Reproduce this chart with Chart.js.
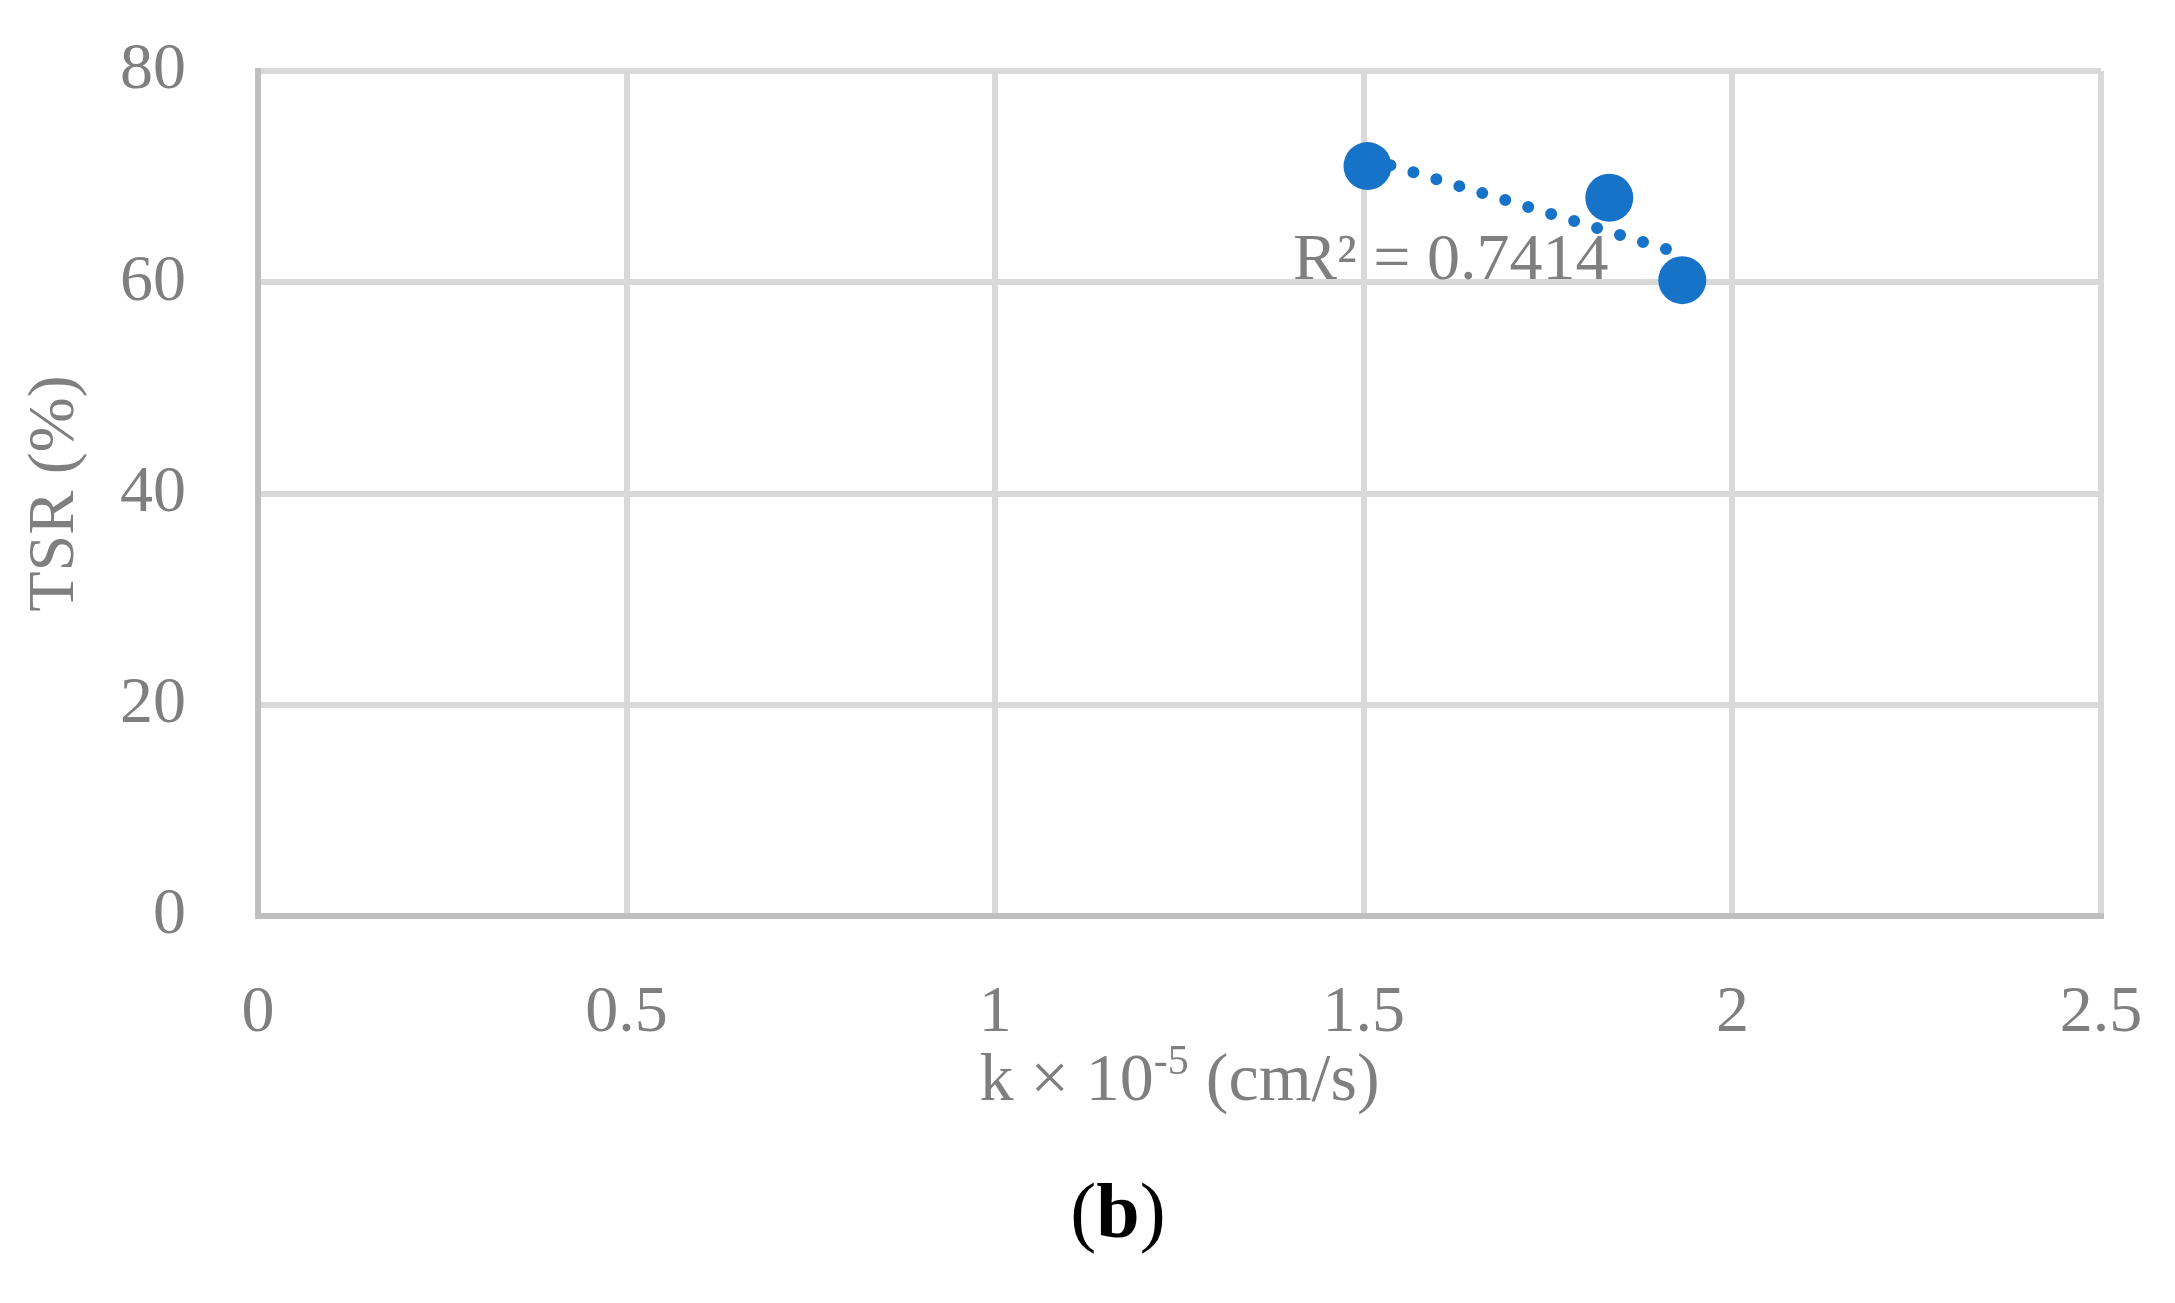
<!DOCTYPE html>
<html>
<head>
<meta charset="utf-8">
<script src="https://cdn.jsdelivr.net/npm/chart.js@4.4.1/dist/chart.umd.min.js"></script>
<style>
  html, body { margin: 0; padding: 0; background: #ffffff; }
  #wrap { position: relative; width: 2175px; height: 1303px; }
</style>
</head>
<body>
<div id="wrap"><canvas id="c"></canvas></div>
<script>
// ---- data ----
const kValues   = [1.505, 1.833, 1.932];   // k × 10^-5 (cm/s)
const tsrValues = [71.0, 68.0, 60.2];      // TSR (%)
const xTickValues = [0, 0.5, 1, 1.5, 2, 2.5];
const xTickLabels = ['0', '0.5', '1', '1.5', '2', '2.5'];
const yTickValues = [0, 20, 40, 60, 80];
const yTickLabels = ['0', '20', '40', '60', '80'];
const r2Label = 'R² = 0.7414';
const yTitle = 'TSR (%)';
const xTitleParts = ['k × 10', '-5', ' (cm/s)'];
const panelLabel = ['(', 'b', ')'];

// ---- linear trendline (least squares) over data range ----
const n = kValues.length;
const mx = kValues.reduce((a, b) => a + b, 0) / n;
const my = tsrValues.reduce((a, b) => a + b, 0) / n;
let sxy = 0, sxx = 0;
for (let i = 0; i < n; i++) { sxy += (kValues[i] - mx) * (tsrValues[i] - my); sxx += (kValues[i] - mx) ** 2; }
const slope = sxy / sxx, intercept = my - slope * mx;
const xMin = Math.min(...kValues), xMax = Math.max(...kValues);
const trendPts = [xMin, xMax].map(x => ({ x: x, y: intercept + slope * x }));

const FONT = "'Liberation Serif', 'DejaVu Serif', serif";
const GRAY = '#7f7f7f';
const BLUE = '#1773c8';

const overlay = {
  id: 'overlay',
  afterDraw(chart) {
    const ctx = chart.ctx;
    const xs = chart.scales.x, ys = chart.scales.y;
    const ca = chart.chartArea;
    ctx.save();
    // R² label
    ctx.fillStyle = GRAY;
    ctx.font = `66px ${FONT}`;
    ctx.textBaseline = 'alphabetic';
    ctx.textAlign = 'left';
    ctx.fillText(r2Label, xs.getPixelForValue(1.404), ys.getPixelForValue(60.3));

    // x-axis title with superscript
    const big = `68px ${FONT}`, small = `42px ${FONT}`;
    ctx.font = big; const w0 = ctx.measureText(xTitleParts[0]).width;
    const w2 = ctx.measureText(xTitleParts[2]).width;
    ctx.font = small; const w1 = ctx.measureText(xTitleParts[1]).width;
    const total = w0 + w1 + w2;
    let x = (ca.left + ca.right) / 2 - total / 2;
    const base = 1100;
    ctx.font = big; ctx.fillText(xTitleParts[0], x, base); x += w0;
    ctx.font = small; ctx.fillText(xTitleParts[1], x, base - 26); x += w1;
    ctx.font = big; ctx.fillText(xTitleParts[2], x, base);

    // panel label (b)
    ctx.fillStyle = '#000000';
    const pn = `78px ${FONT}`, pb = `bold 78px ${FONT}`;
    ctx.font = pn; const a0 = ctx.measureText(panelLabel[0]).width, a2 = ctx.measureText(panelLabel[2]).width;
    ctx.font = pb; const a1 = ctx.measureText(panelLabel[1]).width;
    let px = 1118 - (a0 + a1 + a2) / 2;
    const pbase = 1237;
    ctx.font = pn; ctx.fillText(panelLabel[0], px, pbase); px += a0;
    ctx.font = pb; ctx.fillText(panelLabel[1], px, pbase); px += a1;
    ctx.font = pn; ctx.fillText(panelLabel[2], px, pbase);
    ctx.restore();
  }
};

new Chart(document.getElementById('c'), {
  type: 'scatter',
  data: {
    datasets: [
      {
        type: 'line',
        data: trendPts,
        borderColor: BLUE,
        borderWidth: 12,
        borderDash: [0, 24],
        borderCapStyle: 'round',
        pointRadius: 0,
        fill: false,
        order: 2
      },
      {
        data: kValues.map((k, i) => ({ x: k, y: tsrValues[i] })),
        backgroundColor: BLUE,
        borderColor: BLUE,
        pointRadius: 24,
        pointHoverRadius: 24,
        borderWidth: 0,
        order: 1
      }
    ]
  },
  options: {
    responsive: true,
    maintainAspectRatio: false,
    devicePixelRatio: 1,
    animation: false,
    events: [],
    layout: { padding: { left: 0, right: 74, top: 71, bottom: 0 } },
    plugins: { legend: { display: false }, tooltip: { enabled: false }, title: { display: false } },
    scales: {
      x: {
        type: 'linear',
        min: 0, max: 2.5,
        afterBuildTicks: (s) => { s.ticks = xTickValues.map(v => ({ value: v })); },
        afterFit: (s) => { s.height = 387; s.paddingLeft = 0; s.paddingRight = 0; },
        grid: { color: '#d9d9d9', lineWidth: 6, drawTicks: false },
        border: { color: '#bfbfbf', width: 6 },
        ticks: { color: GRAY, font: { family: FONT, size: 66 }, padding: 58, maxRotation: 0,
                 callback: (v, i) => xTickLabels[i] },
        title: { display: false }
      },
      y: {
        type: 'linear',
        min: 0, max: 80,
        afterBuildTicks: (s) => { s.ticks = yTickValues.map(v => ({ value: v })); },
        afterFit: (s) => { s.width = 258; s.paddingTop = 0; s.paddingBottom = 0; },
        grid: { color: '#d9d9d9', lineWidth: 6, drawTicks: false },
        border: { color: '#bfbfbf', width: 6 },
        ticks: { color: GRAY, font: { family: FONT, size: 66 }, padding: 72,
                 callback: (v, i) => yTickLabels[i] },
        title: { display: true, text: yTitle, color: GRAY, font: { family: FONT, size: 66 }, padding: { top: 16, bottom: 0 } }
      }
    }
  },
  plugins: [overlay]
});
</script>
</body>
</html>
